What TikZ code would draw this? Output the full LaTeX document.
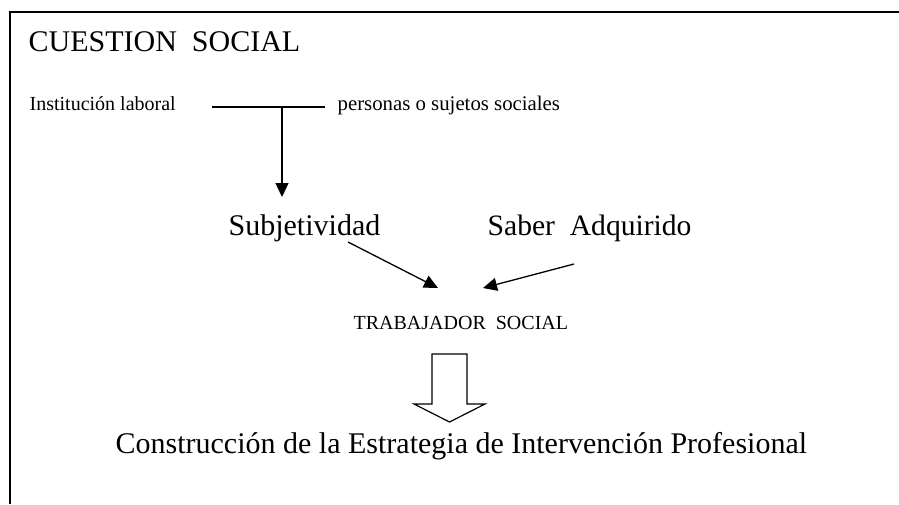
\documentclass[tikz,border=0pt]{standalone}
\usepackage{fontspec}
\setmainfont{Liberation Serif}
\usetikzlibrary{arrows.meta}

\begin{document}
\begin{tikzpicture}[x=1pt,y=-1pt,line width=1.3pt]
	\tikzstyle{every node}=[inner sep=0pt, anchor=base west]
	\tikzstyle{grande}=[font=\fontsize{30}{36}\selectfont]
	\tikzstyle{chico}=[font=\fontsize{20}{24}\selectfont]
	\tikzstyle{flecha}=[-{Triangle[length=14pt,width=13pt]}]
	\useasboundingbox (0,0) rectangle (899,504);
	\draw (10,504) -- (10,12) -- (899,12);
	\node[grande] (CS) at (28,51) {CUESTION~~SOCIAL};
	\node[chico] (IL) at (29,110) {Institución laboral};
	\node[chico, font=\fontsize{20.8}{25}\selectfont] (PS) at (337,110) {personas o sujetos sociales};
	\node[grande] (SU) at (228,235) {Subjetividad};
	\node[grande, font=\fontsize{29.6}{35}\selectfont] (SA) at (487,235) {Saber~~Adquirido};
	\node[chico] (TS) at (353,329) {TRABAJADOR~~SOCIAL};
	\node[grande] (CE) at (115,453) {Construcción de la Estrategia de Intervención Profesional};
	\coordinate (Ta) at (212,107);
	\coordinate (Tb) at (325,107);
	\coordinate (Tm) at (282,107);
	\coordinate (Tf) at (282,197);
	\draw (Ta) -- (Tb);
	\draw [flecha] (Tm) -- (Tf);
	\coordinate (s1) at (348,242);
	\coordinate (s2) at (438,288);
	\coordinate (a1) at (574,264);
	\coordinate (a2) at (483,288);
	\draw [flecha] (s1) -- (s2);
	\draw [flecha] (a1) -- (a2);
	\coordinate (F) at (449.5,354);
	\draw [line width=1.2pt] (F) ++(-17.5,0) -- ++(35,0) -- ++(0,50) -- ++(18,0)
		-- ++(-35.5,18) -- ++(-35.5,-18) -- ++(18,0) -- cycle;
\end{tikzpicture}
\end{document}
